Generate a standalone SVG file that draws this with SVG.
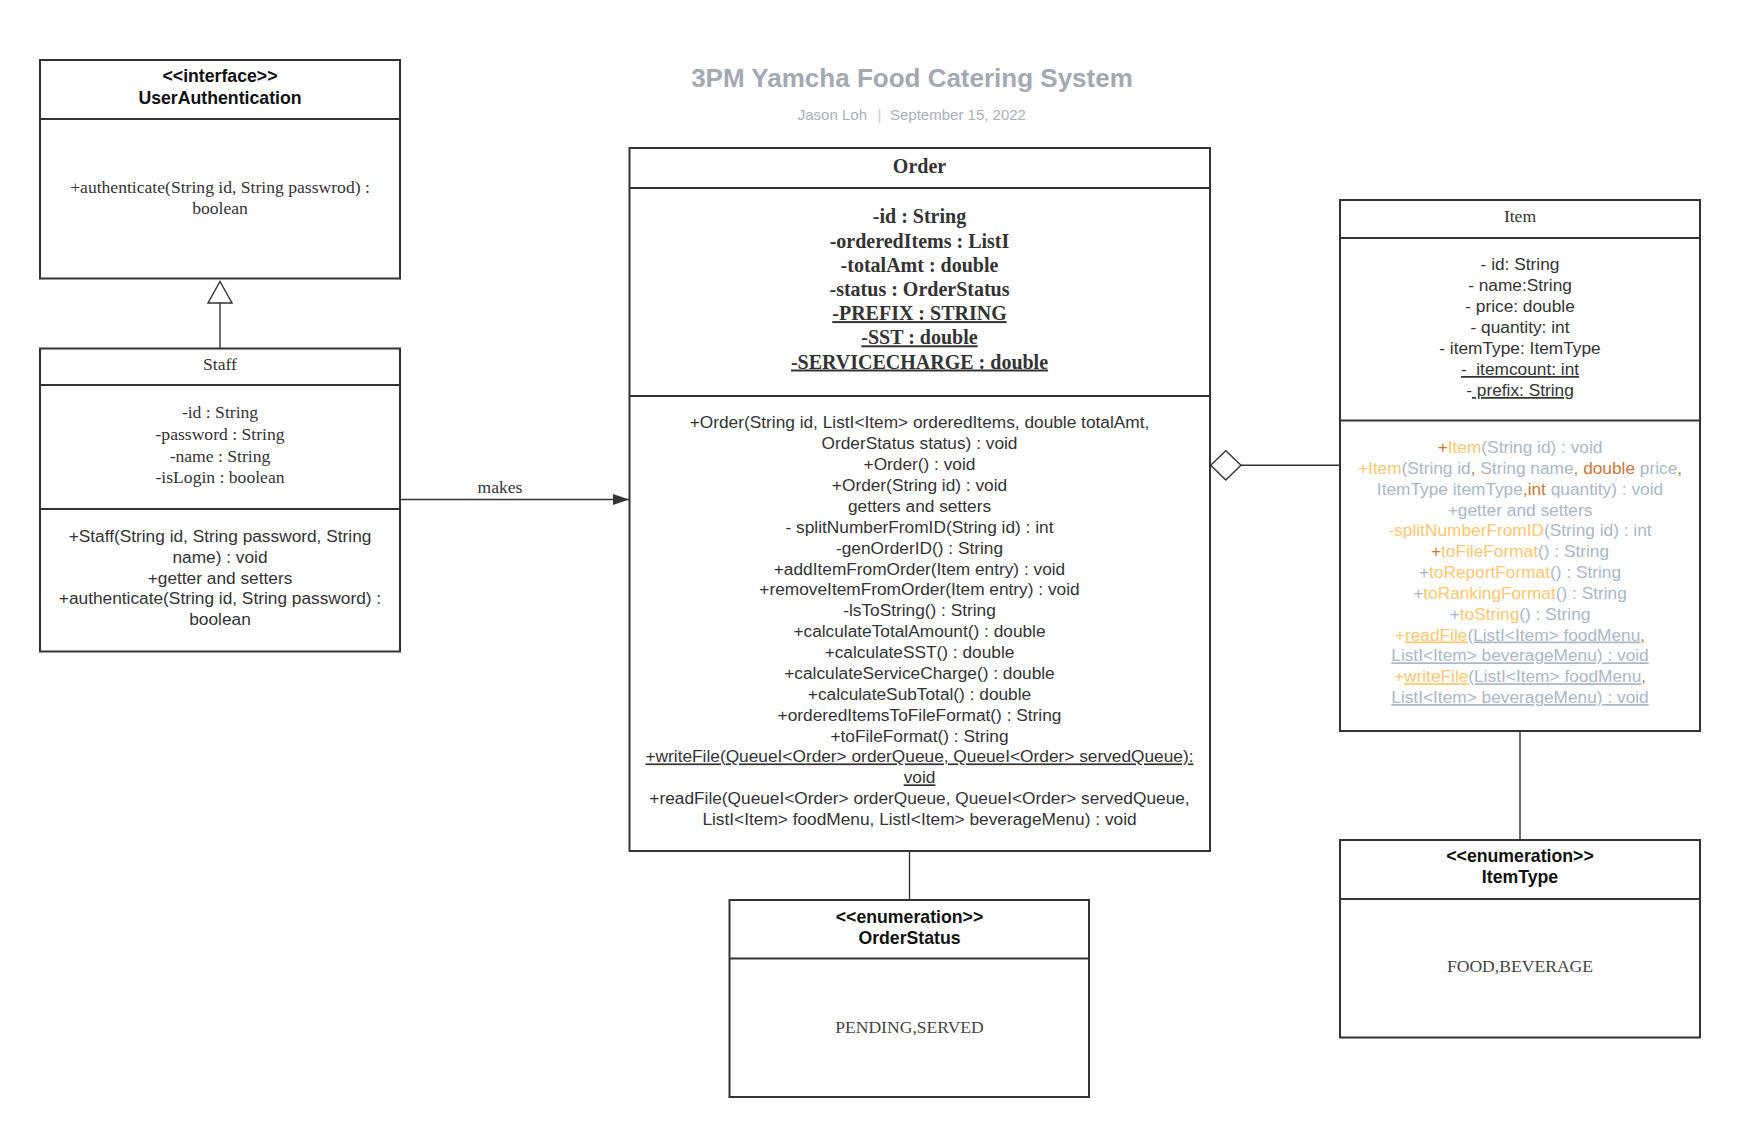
<svg xmlns="http://www.w3.org/2000/svg" width="1740" height="1138" viewBox="0 0 1740 1138">
<style>
.box{fill:#fff;stroke:#333;stroke-width:2}
.div{stroke:#333;stroke-width:2}
.conn{stroke:#333;stroke-width:1.4;fill:none}
.sans{font-family:"Liberation Sans",Arial,sans-serif;font-size:17.3px;fill:#333;text-anchor:middle}
.sansb{font-family:"Liberation Sans",Arial,sans-serif;font-size:17.7px;font-weight:bold;fill:#111;text-anchor:middle}
.serif{font-family:"Liberation Serif","Times New Roman",serif;font-size:17.6px;fill:#333;text-anchor:middle}
.serifb{font-family:"Liberation Serif","Times New Roman",serif;font-size:20px;font-weight:bold;fill:#333;text-anchor:middle}
.u{text-decoration:underline}
.g{fill:#a9b7c6}
.lo{fill:#ffc66d}
.do{fill:#cc7832}
</style>
<defs>
<marker id="arrow" markerWidth="16" markerHeight="11" refX="16" refY="5.5" orient="auto" markerUnits="userSpaceOnUse">
<path d="M0,0 L16,5.5 L0,11 Z" fill="#333"/>
</marker>
</defs>
<rect width="1740" height="1138" fill="#fff"/>

<g id="title">
<text x="912" y="87" style="font-family:'Liberation Sans',Arial,sans-serif;font-size:26px;font-weight:bold;fill:#a2a9b3;text-anchor:middle">3PM Yamcha Food Catering System</text>
<text x="867" y="120" style="font-family:'Liberation Sans',Arial,sans-serif;font-size:15px;fill:#a9afb8;text-anchor:end">Jason Loh</text>
<text x="879.5" y="120" style="font-family:'Liberation Sans',Arial,sans-serif;font-size:15px;fill:#c4c9cf;text-anchor:middle">|</text>
<text x="890" y="120" style="font-family:'Liberation Sans',Arial,sans-serif;font-size:15px;fill:#a9afb8">September 15, 2022</text>
</g>

<g id="connectors">
<line class="conn" x1="220" y1="303" x2="220" y2="348"/>
<path d="M220,281.5 L232,303 L208,303 Z" fill="#fff" stroke="#333" stroke-width="1.4"/>
<line class="conn" x1="400" y1="499.5" x2="629" y2="499.5" marker-end="url(#arrow)"/>
<text class="serif" x="500" y="493">makes</text>
<line class="conn" x1="1241" y1="465.3" x2="1340" y2="465.3"/>
<path d="M1210.7,465.3 L1225.8,450.7 L1241,465.3 L1225.8,480 Z" fill="#fff" stroke="#333" stroke-width="1.4"/>
<line class="conn" x1="909.5" y1="851" x2="909.5" y2="900"/>
<line class="conn" x1="1520" y1="731" x2="1520" y2="840"/>
</g>

<g id="UserAuthentication">
<rect class="box" x="40" y="60" width="360" height="218.5"/>
<line class="div" x1="40" y1="119" x2="400" y2="119"/>
<text class="sansb" x="220" y="82">&lt;&lt;interface&gt;&gt;</text>
<text class="sansb" x="220" y="103.5">UserAuthentication</text>
<text class="serif" x="220" y="193">+authenticate(String id, String passwrod) :</text>
<text class="serif" x="220" y="214">boolean</text>
</g>

<g id="Staff">
<rect class="box" x="40" y="348.5" width="360" height="303"/>
<line class="div" x1="40" y1="385" x2="400" y2="385"/>
<line class="div" x1="40" y1="509" x2="400" y2="509"/>
<text class="serif" x="220" y="370">Staff</text>
<text class="serif" x="220" y="418.3">-id : String</text>
<text class="serif" x="220" y="440">-password : String</text>
<text class="serif" x="220" y="461.6">-name : String</text>
<text class="serif" x="220" y="483">-isLogin : boolean</text>
<text class="sans" x="220" y="542.3">+Staff(String id, String password, String</text>
<text class="sans" x="220" y="563">name) : void</text>
<text class="sans" x="220" y="583.7">+getter and setters</text>
<text class="sans" x="220" y="604.4">+authenticate(String id, String password) :</text>
<text class="sans" x="220" y="625">boolean</text>
</g>

<g id="Order">
<rect class="box" x="629.5" y="148" width="580.5" height="703"/>
<line class="div" x1="629.5" y1="188" x2="1210" y2="188"/>
<line class="div" x1="629.5" y1="396" x2="1210" y2="396"/>
<text class="serifb" x="919.5" y="172.7">Order</text>
<text class="serifb" x="919.5" y="223.3">-id : String</text>
<text class="serifb" x="919.5" y="247.5">-orderedItems : ListI</text>
<text class="serifb" x="919.5" y="271.7">-totalAmt : double</text>
<text class="serifb" x="919.5" y="295.9">-status : OrderStatus</text>
<text class="serifb u" x="919.5" y="320.1">-PREFIX : STRING</text>
<text class="serifb u" x="919.5" y="344.3">-SST : double</text>
<text class="serifb u" x="919.5" y="368.5">-SERVICECHARGE : double</text>
<text class="sans" x="919.5" y="428.3">+Order(String id, ListI&lt;Item&gt; orderedItems, double totalAmt,</text>
<text class="sans" x="919.5" y="449.2">OrderStatus status) : void</text>
<text class="sans" x="919.5" y="470.1">+Order() : void</text>
<text class="sans" x="919.5" y="491">+Order(String id) : void</text>
<text class="sans" x="919.5" y="511.8">getters and setters</text>
<text class="sans" x="919.5" y="532.7">- splitNumberFromID(String id) : int</text>
<text class="sans" x="919.5" y="553.6">-genOrderID() : String</text>
<text class="sans" x="919.5" y="574.5">+addItemFromOrder(Item entry) : void</text>
<text class="sans" x="919.5" y="595.4">+removeItemFromOrder(Item entry) : void</text>
<text class="sans" x="919.5" y="616.3">-lsToString() : String</text>
<text class="sans" x="919.5" y="637.1">+calculateTotalAmount() : double</text>
<text class="sans" x="919.5" y="658">+calculateSST() : double</text>
<text class="sans" x="919.5" y="678.9">+calculateServiceCharge() : double</text>
<text class="sans" x="919.5" y="699.8">+calculateSubTotal() : double</text>
<text class="sans" x="919.5" y="720.7">+orderedItemsToFileFormat() : String</text>
<text class="sans" x="919.5" y="741.5">+toFileFormat() : String</text>
<text class="sans u" x="919.5" y="762.4">+writeFile(QueueI&lt;Order&gt; orderQueue, QueueI&lt;Order&gt; servedQueue):</text>
<text class="sans u" x="919.5" y="783.3">void</text>
<text class="sans" x="919.5" y="804.2">+readFile(QueueI&lt;Order&gt; orderQueue, QueueI&lt;Order&gt; servedQueue,</text>
<text class="sans" x="919.5" y="825">ListI&lt;Item&gt; foodMenu, ListI&lt;Item&gt; beverageMenu) : void</text>
</g>

<g id="Item">
<rect class="box" x="1340" y="200" width="360" height="531"/>
<line class="div" x1="1340" y1="238" x2="1700" y2="238"/>
<line class="div" x1="1340" y1="420.5" x2="1700" y2="420.5"/>
<text class="serif" x="1520" y="222">Item</text>
<text class="sans" x="1520" y="270">- id: String</text>
<text class="sans" x="1520" y="291">- name:String</text>
<text class="sans" x="1520" y="312">- price: double</text>
<text class="sans" x="1520" y="333">- quantity: int</text>
<text class="sans" x="1520" y="354">- itemType: ItemType</text>
<text class="sans u" x="1520" y="375" xml:space="preserve">-  itemcount: int</text>
<text class="sans" x="1520" y="396" xml:space="preserve">-<tspan class="u"> prefix: String</tspan></text>
<text class="sans" x="1520" y="453"><tspan class="do">+</tspan><tspan class="lo">Item</tspan><tspan class="g">(String id) : void</tspan></text>
<text class="sans" x="1520" y="473.8"><tspan class="lo">+Item</tspan><tspan class="g">(String id</tspan><tspan class="do">,</tspan><tspan class="g"> String name</tspan><tspan class="do">, double</tspan><tspan class="g"> price</tspan><tspan class="do">,</tspan></text>
<text class="sans" x="1520" y="494.7"><tspan class="g">ItemType itemType</tspan><tspan class="do">,int</tspan><tspan class="g"> quantity) : void</tspan></text>
<text class="sans g" x="1520" y="515.5">+getter and setters</text>
<text class="sans" x="1520" y="536.3"><tspan class="lo">-splitNumberFromID</tspan><tspan class="g">(String id) : int</tspan></text>
<text class="sans" x="1520" y="557.2"><tspan class="do">+</tspan><tspan class="lo">toFileFormat</tspan><tspan class="g">() : String</tspan></text>
<text class="sans" x="1520" y="578"><tspan class="g">+</tspan><tspan class="lo">toReportFormat</tspan><tspan class="g">() : String</tspan></text>
<text class="sans" x="1520" y="598.8"><tspan class="g">+</tspan><tspan class="lo">toRankingFormat</tspan><tspan class="g">() : String</tspan></text>
<text class="sans" x="1520" y="619.7"><tspan class="g">+</tspan><tspan class="lo">toString</tspan><tspan class="g">() : String</tspan></text>
<text class="sans" x="1520" y="640.5"><tspan class="lo">+</tspan><tspan class="lo u">readFile</tspan><tspan class="g u">(ListI&lt;Item&gt; foodMenu</tspan><tspan class="do u">,</tspan></text>
<text class="sans g u" x="1520" y="661.3">ListI&lt;Item&gt; beverageMenu) : void</text>
<text class="sans" x="1520" y="682.2"><tspan class="lo">+</tspan><tspan class="lo u">writeFile</tspan><tspan class="g u">(ListI&lt;Item&gt; foodMenu</tspan><tspan class="do u">,</tspan></text>
<text class="sans g u" x="1520" y="703">ListI&lt;Item&gt; beverageMenu) : void</text>
</g>

<g id="OrderStatus">
<rect class="box" x="729.5" y="900" width="359.5" height="197"/>
<line class="div" x1="729.5" y1="958.5" x2="1089" y2="958.5"/>
<text class="sansb" x="909.5" y="922.7">&lt;&lt;enumeration&gt;&gt;</text>
<text class="sansb" x="909.5" y="944">OrderStatus</text>
<text class="serif" x="909.5" y="1032.7" style="fill:#444">PENDING,SERVED</text>
</g>

<g id="ItemType">
<rect class="box" x="1340" y="840" width="360" height="197.5"/>
<line class="div" x1="1340" y1="899" x2="1700" y2="899"/>
<text class="sansb" x="1520" y="861.7">&lt;&lt;enumeration&gt;&gt;</text>
<text class="sansb" x="1520" y="883.3">ItemType</text>
<text class="serif" x="1520" y="971.7" style="fill:#444">FOOD,BEVERAGE</text>
</g>
</svg>
